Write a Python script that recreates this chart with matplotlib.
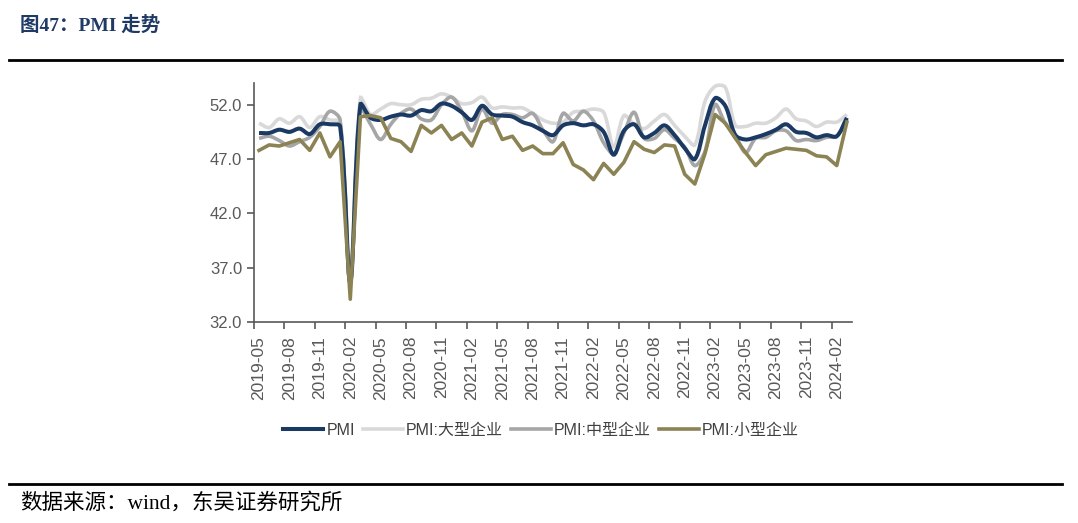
import numpy as np
import matplotlib.pyplot as plt
from matplotlib.path import Path
from matplotlib.patches import PathPatch
from matplotlib.lines import Line2D

plt.rcParams['font.family'] = ['Liberation Sans', 'Noto Sans CJK SC']

# 月份 2019-05 ~ 2024-03
months = ['2019-05', '2019-06', '2019-07', '2019-08', '2019-09', '2019-10', '2019-11', '2019-12',
          '2020-01', '2020-02', '2020-03', '2020-04', '2020-05', '2020-06', '2020-07', '2020-08',
          '2020-09', '2020-10', '2020-11', '2020-12', '2021-01', '2021-02', '2021-03', '2021-04',
          '2021-05', '2021-06', '2021-07', '2021-08', '2021-09', '2021-10', '2021-11', '2021-12',
          '2022-01', '2022-02', '2022-03', '2022-04', '2022-05', '2022-06', '2022-07', '2022-08',
          '2022-09', '2022-10', '2022-11', '2022-12', '2023-01', '2023-02', '2023-03', '2023-04',
          '2023-05', '2023-06', '2023-07', '2023-08', '2023-09', '2023-10', '2023-11', '2023-12',
          '2024-01', '2024-02', '2024-03']

pmi = [49.4, 49.4, 49.7, 49.5, 49.8, 49.3, 50.2, 50.2,
       50.0, 35.7, 52.0, 50.8, 50.6, 50.9, 51.1, 51.0, 51.5, 51.4, 52.1, 51.9,
       51.3, 50.6, 51.9, 51.1, 51.0, 50.9, 50.4, 50.1, 49.6, 49.2, 50.1, 50.3,
       50.1, 50.2, 49.5, 47.4, 49.6, 50.2, 49.0, 49.4, 50.1, 49.2, 48.0, 47.0,
       50.1, 52.6, 51.9, 49.2, 48.8, 49.0, 49.3, 49.7, 50.2, 49.5, 49.4, 49.0,
       49.2, 49.1, 50.8]

pmi_large = [50.3, 49.9, 50.7, 50.3, 50.9, 49.9, 50.9, 50.6,
             50.4, 36.6, 52.6, 51.1, 51.6, 52.1, 52.0, 52.0, 52.5, 52.6, 53.0, 52.7,
             52.1, 52.2, 52.7, 51.7, 51.8, 51.7, 51.7, 51.2, 50.6, 50.3, 50.4, 51.3,
             51.4, 51.6, 51.3, 48.1, 51.0, 50.2, 49.8, 50.5, 51.1, 50.1, 49.1, 48.3,
             52.3, 53.7, 53.6, 50.1, 50.0, 50.3, 50.3, 50.8, 51.6, 50.7, 50.5, 50.0,
             50.4, 50.4, 51.1]

pmi_mid = [48.9, 49.1, 48.7, 48.2, 48.6, 49.0, 50.0, 51.4,
           50.6, 35.6, 51.6, 50.2, 48.8, 50.2, 51.2, 51.6, 50.7, 50.6, 52.0, 52.7,
           51.4, 49.6, 51.6, 50.3, 51.1, 51.1, 50.8, 51.2, 49.7, 48.6, 51.2, 50.5,
           51.4, 50.5, 48.5, 47.5, 49.4, 51.3, 48.9, 48.9, 49.7, 48.9, 48.1, 46.4,
           47.7, 52.0, 50.3, 49.2, 47.6, 48.9, 49.0, 49.6, 49.6, 48.7, 48.8, 48.7,
           49.0, 49.1, 50.6]

pmi_small = [47.8, 48.3, 48.2, 48.5, 48.8, 47.8, 49.4, 47.2,
             48.6, 34.1, 50.9, 51.0, 50.8, 48.9, 48.6, 47.7, 50.1, 49.4, 50.1, 48.8,
             49.4, 48.2, 50.4, 50.8, 48.8, 49.1, 47.8, 48.2, 47.5, 47.5, 48.5, 46.5,
             46.0, 45.1, 46.6, 45.6, 46.7, 48.6, 47.9, 47.6, 48.3, 48.2, 45.6, 44.7,
             47.5, 51.1, 50.3, 48.9, 47.6, 46.4, 47.4, 47.7, 48.0, 47.9, 47.8, 47.3,
             47.2, 46.4, 50.4]

c_pmi = '#1a3a63'
c_large = '#d9d9d9'
c_mid = '#a6a6a6'
c_small = '#8c8355'

x = np.arange(len(months)) + 0.5

# 屏幕上每月/每点的大致像素，用于平滑时按弦长加权
PX_X, PX_Y = 10.14, 10.84


def smooth_path(xs, ys):
    # 平滑曲线（类似 Excel 平滑线）：按弦长加权的贝塞尔曲线，穿过各数据点
    pts = np.column_stack([np.asarray(xs) * PX_X, np.asarray(ys) * PX_Y])
    n = len(pts)
    d = np.hypot(*np.diff(pts, axis=0).T)
    tan = np.zeros_like(pts)
    for k in range(n):
        if k == 0:
            tan[k] = (pts[1] - pts[0]) / d[0]
        elif k == n - 1:
            tan[k] = (pts[-1] - pts[-2]) / d[-1]
        else:
            tan[k] = (pts[k + 1] - pts[k - 1]) / (d[k - 1] + d[k])
    verts = [pts[0]]
    codes = [Path.MOVETO]
    for k in range(n - 1):
        c1 = pts[k] + tan[k] * d[k] / 3.0
        c2 = pts[k + 1] - tan[k + 1] * d[k] / 3.0
        verts += [c1, c2, pts[k + 1]]
        codes += [Path.CURVE4] * 3
    verts = np.array(verts) / [PX_X, PX_Y]
    return Path(verts, codes)


fig = plt.figure(figsize=(10.78, 5.23), dpi=100)
ax = fig.add_axes([0.2356, 0.3843, 0.5547, 0.457])

ax.add_patch(PathPatch(smooth_path(x, pmi_large), fill=False, edgecolor=c_large, lw=2.6, zorder=2))
ax.add_patch(PathPatch(smooth_path(x, pmi_mid), fill=False, edgecolor=c_mid, lw=2.6, zorder=3))
ax.add_patch(PathPatch(smooth_path(x, pmi), fill=False, edgecolor=c_pmi, lw=2.9, zorder=4))
ax.plot(x, pmi_small, color=c_small, lw=2.6, zorder=5)

ax.set_xlim(0, len(months))
ax.set_ylim(32, 54)
ax.set_yticks([32, 37, 42, 47, 52])
ax.set_yticklabels(['%.1f' % v for v in [32, 37, 42, 47, 52]])

ax.set_xticks(x[::3])
ax.set_xticklabels(months[::3], rotation=90)
ax.set_xticks(np.arange(0, len(months), 3), minor=True)
ax.tick_params(axis='x', which='major', length=0, pad=10, labelsize=12.5)
ax.tick_params(axis='x', which='minor', length=5, width=1.2, color='#595959')
ax.tick_params(axis='y', length=5, width=1.2, color='#595959', labelsize=12)
ax.tick_params(labelcolor='#595959')

for s in ['top', 'right']:
    ax.spines[s].set_visible(False)
for s in ['left', 'bottom']:
    ax.spines[s].set_color('#595959')
    ax.spines[s].set_linewidth(1.2)

handles = [Line2D([], [], color=c_pmi, lw=2.9),
           Line2D([], [], color=c_large, lw=2.6),
           Line2D([], [], color=c_mid, lw=2.6),
           Line2D([], [], color=c_small, lw=2.6)]
names = ['PMI', 'PMI:大型企业', 'PMI:中型企业', 'PMI:小型企业']
fig.legend(handles, names, loc='center', bbox_to_anchor=(0.502, 0.177), ncol=4,
           frameon=False, fontsize=11.5, handlelength=2.5, columnspacing=0.5,
           handletextpad=0.2, labelcolor='#404040')

# 标题与分隔线
fig.text(0.019, 0.952, '图47：PMI 走势', fontsize=14, fontweight='bold', color='#1f3a64',
         family=['Liberation Serif', 'Noto Sans CJK SC'], va='center')
fig.add_artist(Line2D([0.008, 0.985], [0.885, 0.885], color='black', lw=2))
fig.add_artist(Line2D([0.008, 0.985], [0.075, 0.075], color='black', lw=2))
fig.text(0.019, 0.038, '数据来源：wind，东吴证券研究所', fontsize=15.5, color='black',
         family=['Liberation Serif', 'Noto Sans CJK SC'], va='center')

fig.savefig('out.png', dpi=100)
